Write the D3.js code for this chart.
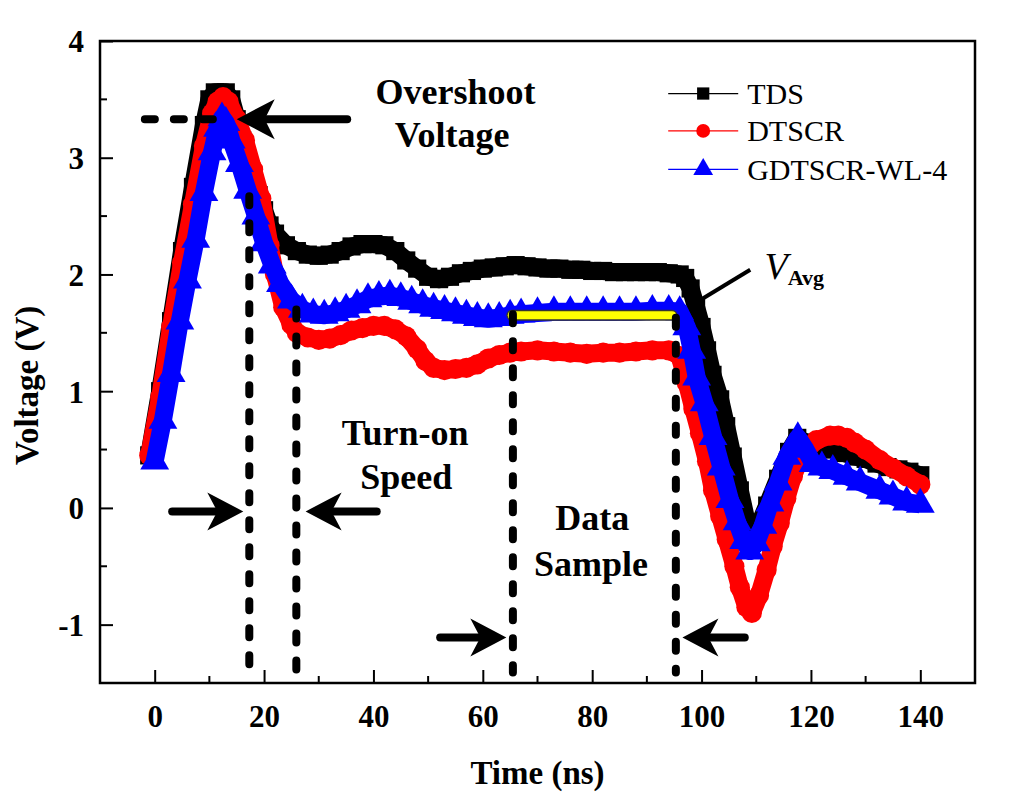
<!DOCTYPE html>
<html>
<head>
<meta charset="utf-8">
<script src="https://cdn.jsdelivr.net/npm/d3@7"></script>
<style>
  body { margin: 0; background: #fff; }
  text { font-family: "Liberation Serif", "Times New Roman", serif; }
</style>
</head>
<body>
<div id="chart"></div>
<script>
/* =========================
   Data
========================= */
const xTicks = [0, 20, 40, 60, 80, 100, 120, 140];
const yTicks = [-1, 0, 1, 2, 3, 4];

const tdsX = [-1, 1, 3, 5, 7, 9, 10, 11, 13, 14, 15, 16, 17, 18, 19, 20, 21, 22, 24, 26, 28, 30, 32, 34, 36, 38, 40, 42, 44, 46, 48, 50, 52, 54, 56, 58, 60, 62, 64, 66, 68, 70, 72, 74, 76, 78, 80, 82, 84, 86, 88, 90, 92, 94, 96, 97, 98, 99, 100, 101, 102, 103.4, 104.5, 105.7, 107, 108.3, 109.2, 110, 112, 114, 116, 117.5, 119, 120.5, 122, 124, 126, 128, 130, 132, 134, 136, 138, 140];
const tdsY = [0.45, 1.0, 1.6, 2.2, 2.75, 3.28, 3.5, 3.56, 3.56, 3.5, 3.33, 3.15, 2.95, 2.8, 2.68, 2.55, 2.42, 2.35, 2.25, 2.2, 2.17, 2.16, 2.17, 2.2, 2.24, 2.26, 2.26, 2.25, 2.2, 2.12, 2.05, 1.98, 1.96, 1.98, 2.01, 2.03, 2.05, 2.06, 2.07, 2.08, 2.07, 2.06, 2.05, 2.05, 2.04, 2.04, 2.03, 2.03, 2.02, 2.02, 2.02, 2.02, 2.02, 2.01, 2.0, 1.97, 1.88, 1.72, 1.55, 1.35, 1.14, 0.93, 0.7, 0.44, 0.15, -0.13, -0.3, -0.2, 0.02, 0.25, 0.48, 0.6, 0.56, 0.52, 0.52, 0.5, 0.47, 0.44, 0.42, 0.38, 0.35, 0.33, 0.31, 0.28];

const dtscrX = [-1, 1, 3, 5, 7, 9, 10.5, 11.5, 12.5, 13.5, 15, 16.5, 18, 19.5, 21, 22, 23.5, 25, 26, 28, 30, 32, 34, 36, 38, 40, 42, 44, 46, 48, 49.5, 51, 53, 55, 57, 59, 61, 63, 65, 67, 70, 73, 76, 79, 82, 85, 88, 91, 94, 96, 97.3, 98.5, 99.7, 101, 102.1, 103.4, 104.6, 106, 107, 108.2, 109.2, 110.5, 111.9, 113, 114.3, 115.5, 116.7, 118, 119.3, 121, 123.5, 125, 126.6, 128, 130, 132.6, 135, 137.5, 140];
const dtscrY = [0.45, 0.95, 1.55, 2.1, 2.6, 3.1, 3.38, 3.48, 3.52, 3.48, 3.33, 3.15, 2.9, 2.65, 2.25, 2.0, 1.72, 1.57, 1.5, 1.46, 1.44, 1.45, 1.48, 1.52, 1.54, 1.56, 1.56, 1.53, 1.47, 1.36, 1.26, 1.2, 1.18, 1.19, 1.2, 1.23, 1.28, 1.31, 1.33, 1.34, 1.35, 1.34, 1.33, 1.32, 1.33, 1.33, 1.34, 1.35, 1.35, 1.3, 1.07, 0.85, 0.64, 0.4, 0.15, -0.07, -0.27, -0.5, -0.68, -0.85, -0.9, -0.75, -0.53, -0.33, -0.13, 0.08, 0.27, 0.42, 0.5, 0.58, 0.62, 0.62, 0.6, 0.56, 0.5, 0.41, 0.34, 0.27, 0.2];

const gdtX = [0, 1.5, 3, 4.6, 6, 7.5, 9, 10.5, 11.5, 12.3, 13, 14, 15.5, 17, 18.5, 20, 21.5, 23, 25, 27, 29, 31, 33, 35, 37, 39, 41, 43, 45, 47, 49, 51, 53, 55, 57, 59, 61, 63, 65, 67, 70, 73, 76, 79, 82, 85, 88, 91, 94, 96, 97.3, 98.2, 99.1, 100.5, 102.1, 103.6, 105.2, 106.5, 107.7, 108.8, 110, 111.2, 112.5, 114, 115.6, 117.6, 119, 120.4, 122, 124, 126.6, 129, 132.6, 135, 137.5, 140];
const gdtY = [0.4, 0.75, 1.15, 1.6, 1.95, 2.3, 2.7, 3.05, 3.25, 3.34, 3.3, 3.15, 2.95, 2.72, 2.5, 2.27, 2.08, 1.92, 1.78, 1.7, 1.66, 1.65, 1.67, 1.7, 1.74, 1.79, 1.81, 1.82, 1.8, 1.77, 1.74, 1.71, 1.69, 1.67, 1.65, 1.63, 1.62, 1.63, 1.65, 1.66, 1.67, 1.68, 1.68, 1.68, 1.68, 1.68, 1.68, 1.69, 1.69, 1.68, 1.55, 1.35, 1.12, 0.9, 0.61, 0.35, 0.07, -0.12, -0.28, -0.37, -0.3, -0.15, 0.04, 0.22, 0.44, 0.6, 0.5, 0.38, 0.35, 0.32, 0.27, 0.22, 0.15, 0.1, 0.05, 0.03];

const seriesNames = ["TDS", "DTSCR", "GDTSCR-WL-4"];

// annotation positions, in data units
const markerLinesX = [17.3, 25.9, 65.5, 95.3];
const markerLinesTop = [2.67, 1.7, 1.66, 1.63];

/* =========================
   Setup
========================= */
const W = 1025, H = 807;
const margin = { top: 41, right: 50, bottom: 124, left: 100 };
const width = W - margin.left - margin.right;
const height = H - margin.top - margin.bottom;

const svg = d3.select("#chart").append("svg")
    .attr("width", W)
    .attr("height", H);

const g = svg.append("g")
    .attr("transform", `translate(${margin.left},${margin.top})`);

const x = d3.scaleLinear().domain([-10, 150]).range([0, width]);
const y = d3.scaleLinear().domain([-1.5, 4]).range([height, 0]);

const colors = { "TDS": "#000000", "DTSCR": "#ff0000", "GDTSCR-WL-4": "#0000ff" };
const symbols = { "TDS": d3.symbolSquare, "DTSCR": d3.symbolCircle, "GDTSCR-WL-4": d3.symbolTriangle };
const symSize = { "TDS": 330, "DTSCR": 320, "GDTSCR-WL-4": 360 };
const legSize = { "TDS": 150, "DTSCR": 150, "GDTSCR-WL-4": 170 };

const series = [
    { name: "TDS", values: tdsX.map((d, i) => ({ x: d, y: tdsY[i] })) },
    { name: "DTSCR", values: dtscrX.map((d, i) => ({ x: d, y: dtscrY[i] })) },
    { name: "GDTSCR-WL-4", values: gdtX.map((d, i) => ({ x: d, y: gdtY[i] })) }
];

/* =========================
   Curves (thick line + markers)
========================= */
const line = d3.line().x(d => x(d.x)).y(d => y(d.y));

series.forEach(s => {
    const sg = g.append("g").attr("class", "series");
    sg.append("path")
        .datum(s.values)
        .attr("fill", "none")
        .attr("stroke", colors[s.name])
        .attr("stroke-width", 18)
        .attr("stroke-linejoin", "round")
        .attr("d", line);
    sg.selectAll("path.pt")
        .data(s.values)
        .enter().append("path")
        .attr("class", "pt")
        .attr("transform", d => `translate(${x(d.x)},${y(d.y)})`)
        .attr("d", d3.symbol().type(symbols[s.name]).size(symSize[s.name]))
        .attr("fill", colors[s.name]);
});

/* =========================
   Axes (frame, inward ticks)
========================= */
const xMinor = d3.range(-10, 151, 10).filter(v => !xTicks.includes(v));
const yMinor = d3.range(-1.5, 4.01, 0.5).filter(v => !yTicks.includes(v));
const fmt = d => String(d);   // plain hyphen for negatives

const xAxisG = g.append("g").attr("transform", `translate(0,${height})`)
    .call(d3.axisBottom(x).tickValues(xTicks).tickSize(-13).tickPadding(22).tickFormat(fmt));
xAxisG.append("g").selectAll("line").data(xMinor).enter().append("line")
    .attr("x1", d => x(d)).attr("x2", d => x(d))
    .attr("y1", 0).attr("y2", -7).attr("stroke", "#000").attr("stroke-width", 2);

const yAxisG = g.append("g")
    .call(d3.axisLeft(y).tickValues(yTicks).tickSize(-13).tickPadding(16).tickFormat(fmt));
yAxisG.append("g").selectAll("line").data(yMinor).enter().append("line")
    .attr("x1", 0).attr("x2", 7)
    .attr("y1", d => y(d)).attr("y2", d => y(d)).attr("stroke", "#000").attr("stroke-width", 2);

[xAxisG, yAxisG].forEach(a => {
    a.select(".domain").remove();
    a.selectAll(".tick line").attr("stroke-width", 2);
    a.selectAll(".tick text")
        .attr("font-family", "Liberation Serif")
        .attr("font-weight", "bold")
        .attr("font-size", 31)
        .attr("fill", "#000");
});
yAxisG.selectAll(".tick text").attr("dy", "0.35em");

g.append("rect")
    .attr("x", 0).attr("y", 0)
    .attr("width", width).attr("height", height)
    .attr("fill", "none")
    .attr("stroke", "#000")
    .attr("stroke-width", 2.5);

svg.append("text")
    .attr("x", margin.left + x(70))
    .attr("y", 784)
    .attr("text-anchor", "middle")
    .attr("font-weight", "bold")
    .attr("font-size", 33)
    .text("Time (ns)");

svg.append("text")
    .attr("transform", `translate(38,${margin.top + y(1.05)}) rotate(-90)`)
    .attr("text-anchor", "middle")
    .attr("font-weight", "bold")
    .attr("font-size", 33)
    .text("Voltage (V)");

/* =========================
   Annotations
========================= */
const ann = g.append("g").attr("class", "annotations");

// yellow V_avg bar
ann.append("line")
    .attr("x1", x(65.3)).attr("x2", x(94.6))
    .attr("y1", y(1.65)).attr("y2", y(1.65))
    .attr("stroke", "#333").attr("stroke-width", 11).attr("stroke-linecap", "round");
ann.append("line")
    .attr("x1", x(65.3)).attr("x2", x(94.6))
    .attr("y1", y(1.65)).attr("y2", y(1.65))
    .attr("stroke", "#ffff00").attr("stroke-width", 8).attr("stroke-linecap", "round");

// dashed verticals
ann.selectAll("line.vdash")
    .data(markerLinesX)
    .enter().append("line")
    .attr("class", "vdash")
    .attr("x1", d => x(d)).attr("x2", d => x(d))
    .attr("y1", (d, i) => y(markerLinesTop[i]))
    .attr("y2", y(-1.41))
    .attr("stroke", "#000")
    .attr("stroke-width", 8)
    .attr("stroke-linecap", "round")
    .attr("stroke-dasharray", "9 18");

// overshoot dashed horizontal
ann.append("line")
    .attr("x1", x(-1.8)).attr("x2", x(12))
    .attr("y1", y(3.33)).attr("y2", y(3.33))
    .attr("stroke", "#000")
    .attr("stroke-width", 8)
    .attr("stroke-linecap", "round")
    .attr("stroke-dasharray", "10 19");

function arrow(x0, x1, yv, headLen, halfW) {
    // x0 = tail, x1 = tip (data units)
    const tx = x(x0), px = x(x1), py = y(yv);
    const dir = px > tx ? 1 : -1;
    const back = px - dir * headLen;
    ann.append("line")
        .attr("x1", tx).attr("x2", back + dir * 8)
        .attr("y1", py).attr("y2", py)
        .attr("stroke", "#000").attr("stroke-width", 8).attr("stroke-linecap", "round");
    ann.append("path")
        .attr("d", `M${px},${py} L${back},${py - halfW} L${back + dir * 10},${py} L${back},${py + halfW} Z`)
        .attr("fill", "#000");
}

arrow(35.2, 15.0, 3.33, 38, 20);
arrow(3.2, 16.2, -0.03, 36, 19);
arrow(40.6, 27.6, -0.03, 36, 19);
arrow(52.2, 64.3, -1.11, 36, 19);
arrow(107.9, 96.5, -1.11, 36, 19);

// V_avg pointer
ann.append("line")
    .attr("x1", x(99.4)).attr("y1", y(1.77))
    .attr("x2", x(108.9)).attr("y2", y(2.04))
    .attr("stroke", "#000").attr("stroke-width", 4);

const labels = [
    { t: "Overshoot", x: 55, y: 3.46 },
    { t: "Voltage", x: 54.4, y: 3.09 },
    { t: "Turn-on", x: 45.8, y: 0.54 },
    { t: "Speed", x: 46, y: 0.16 },
    { t: "Data", x: 80, y: -0.19 },
    { t: "Sample", x: 79.8, y: -0.58 }
];
ann.selectAll("text.lbl")
    .data(labels)
    .enter().append("text")
    .attr("class", "lbl")
    .attr("x", d => x(d.x))
    .attr("y", d => y(d.y))
    .attr("text-anchor", "middle")
    .attr("font-weight", "bold")
    .attr("font-size", 36)
    .text(d => d.t);

const vt = ann.append("text")
    .attr("x", x(111.5))
    .attr("y", y(1.96));
vt.append("tspan")
    .attr("font-style", "italic")
    .attr("font-size", 38)
    .text("V");
vt.append("tspan")
    .attr("font-weight", "bold")
    .attr("font-size", 22)
    .attr("dy", 6)
    .text("Avg");

/* =========================
   Legend
========================= */
const legendRows = [3.55, 3.23, 2.9];
const legend = g.append("g").attr("class", "legend");
series.forEach((s, i) => {
    const row = legend.append("g").attr("transform", `translate(${x(93.9)},${y(legendRows[i])})`);
    row.append("line")
        .attr("x1", 0).attr("x2", 70)
        .attr("stroke", colors[s.name]).attr("stroke-width", 1.2);
    row.append("path")
        .attr("transform", "translate(35,0)")
        .attr("d", d3.symbol().type(symbols[s.name]).size(legSize[s.name]))
        .attr("fill", colors[s.name]);
    row.append("text")
        .attr("x", 79).attr("y", 0).attr("dy", "0.35em")
        .attr("font-size", 30)
        .text(s.name);
});
</script>
</body>
</html>
